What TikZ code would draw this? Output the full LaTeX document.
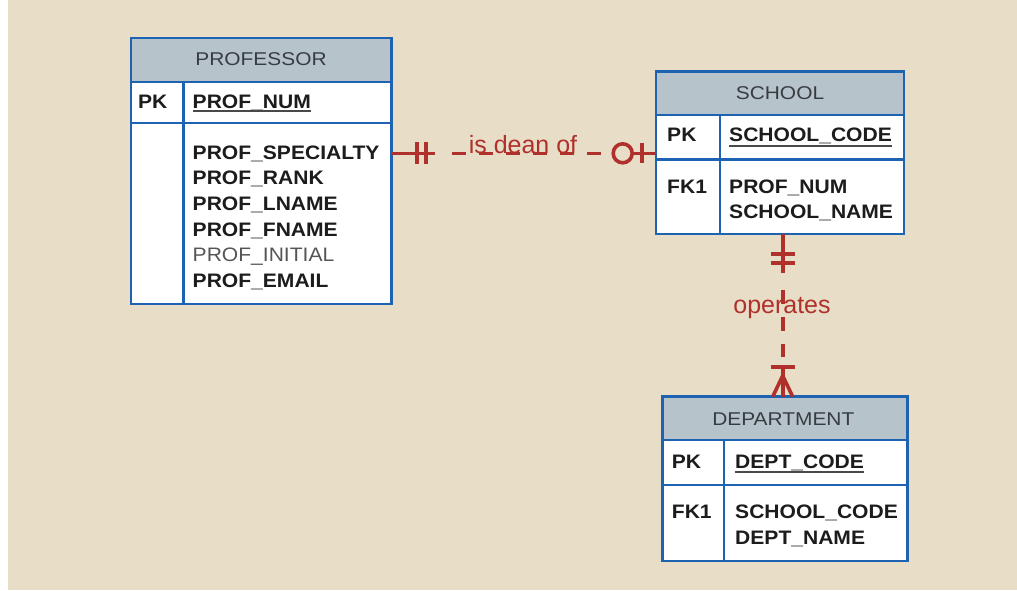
\documentclass[tikz,border=0pt]{standalone}
\usepackage{fontspec}
\setmainfont{Liberation Sans}
\newfontfamily\tblfont[FakeStretch=1.08]{Liberation Sans}
\newfontfamily\hdrfont[FakeStretch=1.13]{Liberation Sans}
\usetikzlibrary{calc}
\definecolor{bg}{RGB}{232,222,200}
\definecolor{tblblue}{RGB}{30,98,178}
\definecolor{hdrfill}{RGB}{183,195,202}
\definecolor{relred}{RGB}{176,48,44}
\definecolor{txtdark}{RGB}{28,28,28}
\definecolor{hdrtxt}{RGB}{55,60,65}
\definecolor{lighttxt}{RGB}{85,85,85}
\tikzset{
  tblbox/.style={fill=white, draw=none, rectangle, inner sep=0pt, outer sep=0pt, anchor=north west},
  tblborder/.style={draw=tblblue, line width=2.6pt},
  divline/.style={draw=tblblue, line width=2.4pt},
  hdrtext/.style={font=\hdrfont\fontsize{18.5}{20}\selectfont, text=hdrtxt, anchor=base, inner sep=0pt},
  attr/.style={font=\tblfont\bfseries\fontsize{19.5}{22}\selectfont, text=txtdark, anchor=base west, inner sep=0pt},
  attrlight/.style={font=\tblfont\fontsize{19.5}{22}\selectfont, text=lighttxt, anchor=base west, inner sep=0pt},
  rel/.style={draw=relred, line width=3.6pt},
  reldash/.style={rel, dash pattern=on 14pt off 13pt},
  rellabel/.style={font=\fontsize{25}{28}\selectfont, text=relred, inner sep=0pt, anchor=base},
  uline/.style={draw=txtdark!80, line width=1.8pt},
}
\begin{document}
\begin{tikzpicture}[x=1pt, y=-1pt]
\useasboundingbox (0,0) rectangle (1017,590);
\fill[white] (0,0) rectangle (1017,590);
\fill[bg] (7.5,0) rectangle (1017,590);

% ---------- PROFESSOR ----------
\node[tblbox, minimum width=260.7pt, minimum height=266pt] (prof) at (131,38) {};
\fill[hdrfill] (prof.north west) rectangle (prof.east |- 0,81.7);
\draw[divline] (prof.west |- 0,81.7) -- (prof.east |- 0,81.7);
\draw[divline] (prof.west |- 0,122.7) -- (prof.east |- 0,122.7);
\draw[divline] (183.5,81.7) -- (183.5,304);
\draw[tblborder] (prof.north west) rectangle (prof.south east);
\node[hdrtext] (profh) at (261,65) {PROFESSOR};
\node[attr] (profpk) at (138,108) {PK};
\node[attr] (profnum) at (192.5,108) {PROF\_NUM};
\draw[uline] ($(profnum.base west)+(0,3)$) -- ($(profnum.base east)+(0,3)$);
\node[attr] (pa1) at (192.5,159.3) {PROF\_SPECIALTY};
\node[attr] (pa2) at (192.5,184.9) {PROF\_RANK};
\node[attr] (pa3) at (192.5,210.5) {PROF\_LNAME};
\node[attr] (pa4) at (192.5,236.1) {PROF\_FNAME};
\node[attrlight] (pa5) at (192.5,261.7) {PROF\_INITIAL};
\node[attr] (pa6) at (192.5,287.3) {PROF\_EMAIL};

% ---------- SCHOOL ----------
\node[tblbox, minimum width=248pt, minimum height=162.3pt] (school) at (656,71.7) {};
\fill[hdrfill] (school.north west) rectangle (school.east |- 0,115);
\draw[divline] (school.west |- 0,115) -- (school.east |- 0,115);
\draw[divline] (school.west |- 0,159.3) -- (school.east |- 0,159.3);
\draw[divline] (720,115) -- (720,234);
\draw[tblborder] (school.north west) rectangle (school.south east);
\node[hdrtext] (schoolh) at (780,99.3) {SCHOOL};
\node[attr] (schoolpk) at (667,141.7) {PK};
\node[attr] (schoolcode) at (729,141.7) {SCHOOL\_CODE};
\draw[uline] ($(schoolcode.base west)+(0,4)$) -- ($(schoolcode.base east)+(0,4)$);
\node[attr] (schoolfk) at (667,193.3) {FK1};
\node[attr] (schoolprof) at (729,193.3) {PROF\_NUM};
\node[attr] (schoolname) at (729,218.3) {SCHOOL\_NAME};

% ---------- DEPARTMENT ----------
\node[tblbox, minimum width=244.6pt, minimum height=164.3pt] (dept) at (662.7,396.7) {};
\fill[hdrfill] (dept.north west) rectangle (dept.east |- 0,440);
\draw[divline] (dept.west |- 0,440) -- (dept.east |- 0,440);
\draw[divline] (dept.west |- 0,485) -- (dept.east |- 0,485);
\draw[divline] (724,440) -- (724,561);
\draw[tblborder] (dept.north west) rectangle (dept.south east);
\node[hdrtext] (depth) at (783.3,425) {DEPARTMENT};
\node[attr] (deptpk) at (671.7,468.3) {PK};
\node[attr] (deptcode) at (735,468.3) {DEPT\_CODE};
\draw[uline] ($(deptcode.base west)+(0,3.5)$) -- ($(deptcode.base east)+(0,3.5)$);
\node[attr] (deptfk) at (671.7,518.3) {FK1};
\node[attr] (deptschool) at (735,518.3) {SCHOOL\_CODE};
\node[attr] (deptname) at (735,544) {DEPT\_NAME};

% ---------- is dean of ----------
\coordinate (r1a) at (prof.east |- 0,153.3);
\coordinate (r1b) at (school.west |- r1a);
\draw[reldash] ($(r1a)+(60.3,0)$) -- ($(r1b)+(-55,0)$);
\draw[rel] (r1a) -- ($(r1a)+(43.3,0)$);
\draw[rel] ($(r1a)+(25,-11)$) -- ($(r1a)+(25,11)$);
\draw[rel] ($(r1a)+(34,-11)$) -- ($(r1a)+(34,11)$);
\draw[rel] ($(r1b)+(-33.3,0)$) circle (9.5pt);
\draw[rel] ($(r1b)+(-23.8,0)$) -- (r1b);
\draw[rel] ($(r1b)+(-14.3,-10)$) -- ($(r1b)+(-14.3,10)$);
\node[rellabel] (l1) at ($(r1a)+(131.3,0)$) {is dean of};

% ---------- operates ----------
\coordinate (r2a) at ($(school.south)+(2.7,0)$);
\coordinate (r2b) at (r2a |- dept.north);
\draw[reldash] ($(r2a)+(0,56)$) -- ($(r2b)+(0,-40)$);
\draw[rel] (r2a) -- ($(r2a)+(0,39)$);
\draw[rel] ($(r2a)+(-12,20)$) -- ($(r2a)+(12,20)$);
\draw[rel] ($(r2a)+(-12,29)$) -- ($(r2a)+(12,29)$);
\draw[rel] ($(r2b)+(0,-30)$) -- (r2b);
\draw[rel] ($(r2b)+(-12,-30)$) -- ($(r2b)+(12,-30)$);
\draw[rel] ($(r2b)+(-10,0)$) -- ($(r2b)+(0,-21)$) -- ($(r2b)+(10,0)$);
\node[rellabel] (l2) at ($(r2a)+(-0.7,79)$) {operates};
\end{tikzpicture}
\end{document}
